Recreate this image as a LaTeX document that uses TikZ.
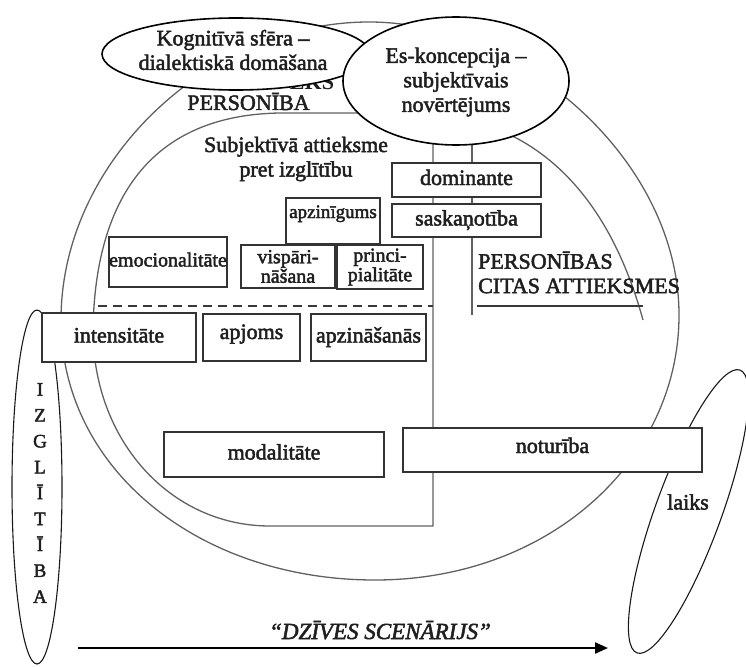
\documentclass[tikz,border=0pt]{standalone}
\usepackage{fontspec}
\setmainfont{Liberation Serif}[UprightFeatures={FakeBold=2.2},ItalicFeatures={FakeBold=2.2}]
\usetikzlibrary{shapes.geometric,arrows.meta}
\begin{document}
\begin{tikzpicture}[x=1pt,y=-1pt,
  every node/.style={inner sep=0pt, text=black!88},
  fbig/.style={font=\fontsize{22}{24.5}\selectfont},
  ring/.style={draw=black!62, line width=1.3pt},
  rule/.style={draw=black!78, line width=1.4pt},
  bx/.style={draw=black!80, line width=1.2pt, fill=white, align=center},
  one/.style={fbig, text height=15pt, text depth=5pt},
  two/.style={font=\fontsize{20}{19.5}\selectfont},
  ov/.style={draw=black, line width=1.6pt, ellipse, inner sep=0pt},
  thinov/.style={draw=black!90, line width=1.1pt, ellipse, inner sep=0pt},
  ]
\useasboundingbox (0,0) rectangle (746,666);

% outer ring (PERSONIBA)
\draw[ring] (369,22) .. controls (520,22) and (679,160) .. (679,315)
  .. controls (679,460) and (550,580) .. (375,580)
  .. controls (200,580) and (61,470) .. (61,320)
  .. controls (61,160) and (210,22) .. (369,22) -- cycle;

% inner region (Subjektiva attieksme)
\draw[ring] (643,320) .. controls (610,200) and (540,118) .. (420,113) -- (280,113)
  .. controls (150,115) and (95,200) .. (93,330)
  .. controls (93,440) and (170,526) .. (270,526) -- (433,526) -- (433,130);

% other lines
\coordinate (vtop) at (472,130);
\coordinate (vbot) at (472,315);
\draw[ring] (vtop) -- (vbot);
\coordinate (hl) at (477,306);
\coordinate (hr) at (643,306);
\draw[rule] (hl) -- (hr);
\coordinate (dl) at (98,306);
\coordinate (dr) at (433,306);
\draw[rule, dash pattern=on 9pt off 6pt] (dl) -- (dr);

% side ellipses
\node[thinov, minimum width=50pt, minimum height=354pt] (izg) at (37,487) {};
\node[font=\fontsize{19}{25.9}\selectfont, align=center] (izgtxt) at (40,493) {I\\Z\\G\\L\\Ī\\T\\Ī\\B\\A};
\node[thinov, minimum width=301pt, minimum height=66pt, rotate=70] (laiks) at (688.5,511.5) {};
\node[fbig] (laikstxt) at (688,502) {laiks};

% texts
\node[fbig, anchor=base] (pers) at (248.5,110) {PERSONĪBA};
\node[fbig, align=center] (subj) at (296,159) {Subjektīvā attieksme\\pret izglītību};
\node[fbig, align=left, anchor=west] (citas) at (478,272.5) {PERSONĪBAS\\CITAS ATTIEKSMES};

% boxes
\node[bx, one, minimum width=149pt, minimum height=34pt] (dom) at (466.5,180) {dominante};
\node[bx, one, minimum width=149pt, minimum height=33pt] (sask) at (466.5,220.5) {saskaņotība};
\node[bx, minimum width=94pt, minimum height=46pt, font=\fontsize{19}{20}\selectfont, text height=14pt, text depth=20pt] (apzg) at (333,221) {apzinīgums};
\node[bx, two, minimum width=94pt, minimum height=43pt] (visp) at (288,266.5) {vispāri-\\nāšana};
\node[bx, two, minimum width=86pt, minimum height=44pt] (princ) at (380,267) {princi-\\pialitāte};
\node[bx, minimum width=118pt, minimum height=50pt, font=\fontsize{20}{22}\selectfont, text height=14pt, text depth=5pt] (emoc) at (168,262) {emocionalitāte};
\node[bx, one, minimum width=154pt, minimum height=49pt] (inten) at (119,337.5) {intensitāte};
\node[bx, one, minimum width=97pt, minimum height=47pt, text depth=12pt] (apj) at (251.5,337.5) {apjoms};
\node[bx, one, minimum width=115pt, minimum height=47pt] (apzn) at (368.5,337.5) {apzināšanās};
\node[bx, one, minimum width=220pt, minimum height=45pt] (moda) at (274,454.5) {modalitāte};
\node[bx, one, minimum width=299pt, minimum height=44pt, text depth=9pt] (notur) at (552.5,450) {noturība};

% partly hidden heading and top ellipses
\node[font=\bfseries\fontsize{22}{24}\selectfont, anchor=base, text depth=0pt] (hid) at (312,90) {EKS};
\node[ov, fill=white, minimum width=268pt, minimum height=72pt] (kog) at (236,54) {};
\node[fbig, align=center] (kogtxt) at (233,50) {Kognitīvā sfēra –\\dialektiskā domāšana};
\node[ov, fill=white, minimum width=226pt, minimum height=128pt] (es) at (456,81) {};
\node[fbig, align=center] (estxt) at (456,82) {Es-koncepcija –\\subjektīvais\\novērtējums};

% life scenario arrow
\coordinate (ars) at (78,648);
\coordinate (are) at (608,648);
\draw[line width=2.3pt, black, -{Triangle[length=13pt,width=11pt]}] (ars) -- (are);
\node[font=\itshape\fontsize{23}{25}\selectfont, anchor=base] (dz) at (380,639) {“DZĪVES SCENĀRIJS”};
\end{tikzpicture}
\end{document}
